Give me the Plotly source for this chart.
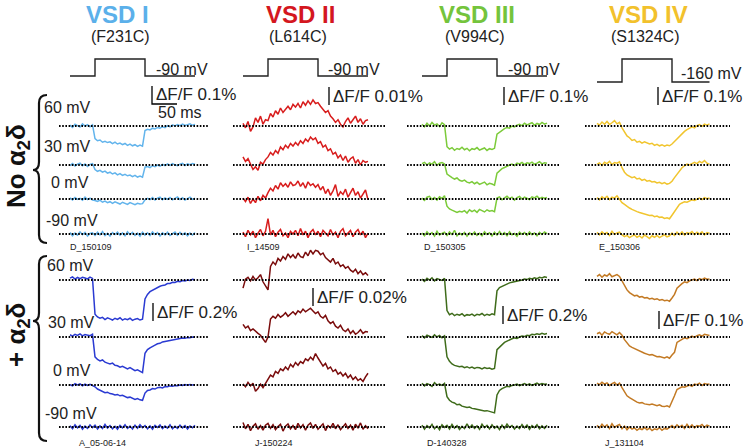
import plotly.graph_objects as go

# ------------------------------------------------------------------ data
T_STEP = 5  # ms between samples
COLUMNS = ["VSD I", "VSD II", "VSD III", "VSD IV"]
MUTANTS = ["(F231C)", "(L614C)", "(V994C)", "(S1324C)"]
HOLDING = ["-90 mV", "-90 mV", "-90 mV", "-160 mV"]
TEST_V = ["60 mV", "30 mV", "0 mV", "-90 mV"]
ROW_LABELS = ["No α<sub>2</sub>δ", "+ α<sub>2</sub>δ"]
IDS_TOP = ["D_150109", "I_14509", "D_150305", "E_150306"]
IDS_BOT = ["A_05-06-14", "J-150224", "D-140328", "J_131104"]
UNIT = [1e-3, 1e-4, 1e-3, 1e-3]          # % dF/F per integer value
SCALE_TOP = [0.1, 0.01, 0.1, 0.1]        # scale bar, % dF/F
SCALE_BOT = [0.2, 0.02, 0.2, 0.1]
PULSE = (50, 150)                         # ms
DURATION = [250, 250, 250, 225]           # ms
HOLD_LEVEL = [0, 0, 0, -0.35]             # relative to test level 1

# VSD I, no a2d
c1_top_60 = [5, -8, 10, 2, -6, 12, 0, 8, -4, 6,
             -70, -82, -78, -90, -85, -92, -88, -98, -90, -100, -95, -104, -97, -108, -101, -110, -104, -113, -106, -112,
             -25, -18, -22, -12, -16, -8, -12, -4, -9, 2, -5, 6, 0, 8, 2, 10, 3, 7, 12, 4, 9]
c1_top_30 = [-3, 8, -6, 5, 10, -4, 6, -8, 3, 7,
             -25, -35, -30, -40, -34, -45, -40, -50, -44, -55, -48, -58, -52, -60, -56, -65, -58, -67, -62, -68,
             -12, -8, -14, -4, -9, 0, -6, 4, -3, 6, -2, 8, 1, -4, 5, 9, -3, 6, 2, 8, 4]
c1_top_0 = [6, -5, 8, -2, 4, -7, 10, -3, 5, -6,
            -8, -14, -6, -18, -12, -20, -15, -24, -16, -22, -28, -18, -25, -30, -20, -27, -32, -24, -28, -26,
            -5, 4, -3, 8, -6, 5, 10, -4, 6, -2, 9, -5, 3, 12, -3, 7, -6, 4, 10, -2, 5]
c1_top_m90 = [8, -10, 5, -6, 12, -4, 9, -12, 3, 7, -8, 10, -5, 13, -9, 4, -11, 8, -3, 11,
              -7, 6, -10, 12, -4, 9, -8, 5, -12, 10, -6, 7, -9, 12, -3, 8, -11, 6, -5, 10,
              -8, 4, 11, -7, 9, -4, 7, -10, 5, -6, 8]
# VSD I, + a2d
c1_bot_60 = [20, 35, 10, 28, 15, 30, 22, 12, 32, 18,
             -380, -410, -425, -415, -440, -420, -432, -445, -425, -438, -420, -446, -430, -440, -425, -448, -435, -428, -445, -436,
             -210, -160, -130, -115, -95, -85, -70, -60, -55, -40, -38, -25, -28, -15, -18, -5, -10, 0, -6, 8, 2]
c1_bot_30 = [25, 10, 30, 18, 35, 12, 28, 20, 15, 30,
             -220, -250, -265, -255, -280, -290, -300, -290, -315, -320, -335, -325, -345, -355, -340, -360, -375, -365, -385, -395,
             -180, -140, -120, -100, -90, -75, -70, -55, -50, -38, -40, -28, -30, -18, -20, -10, -15, -5, -8, 0, -4]
c1_bot_0 = [5, -10, 15, 0, 12, -8, 10, -5, 8, -2,
            -20, -45, -60, -75, -85, -80, -95, -100, -110, -105, -120, -115, -130, -140, -135, -150, -160, -150, -165, -170,
            -90, -60, -55, -40, -45, -30, -25, -32, -18, -20, -10, -15, -5, -8, 0, -4, 5, -2, 6, 0, 3]
c1_bot_m90 = [15, -20, 25, -10, 18, -25, 10, -15, 22, -8, 20, -22, 12, -18, 28, -12, 16, -20, 8, -25,
              18, -10, 24, -16, 10, -22, 20, -14, 26, -8, 15, -20, 12, -24, 18, -6, 22, -18, 10, -12,
              25, -20, 8, -15, 20, -10, 16, -22, 12, -8, 18]
# VSD II, no a2d
c2_top_60 = [15, -10, 25, -30, -5, 45, 20, 55, 10, 35, 30, 70, 50, 85, 65, 100, 75, 95, 110, 90,
             120, 105, 125, 100, 135, 115, 140, 120, 145, 125, 130, 110, 90, 75, 85, 55, 40, 20, 35, 10,
             -5, 25, 45, 15, 35, 55, 20, 40, 10, 30, 35]
c2_top_30 = [45, 20, 35, 0, -25, -10, -30, 15, 5, 30, 45, 70, 55, 80, 65, 100, 85, 110, 95, 120,
             105, 125, 110, 135, 120, 145, 130, 155, 140, 150, 120, 130, 100, 110, 80, 90, 60, 70, 40, 55,
             25, 50, 15, 35, 45, 10, 30, 0, 25, 15, 20]
c2_top_0 = [5, -15, 10, -25, 0, -20, 15, -10, 20, 5, 35, 60, 45, 75, 55, 90, 70, 85, 65, 95,
            75, 80, 100, 70, 90, 60, 95, 75, 85, 65, 80, 50, 70, 30, 55, 20, 45, 80, 15, 40,
            25, 55, 10, 35, 60, 20, 40, 5, 30, 50, -5]
c2_top_m90 = [10, -15, 20, -5, 15, -20, 5, 25, -10, 15, 85, -5, 20, -15, 10, 25, -10, 5, -20, 15,
              0, 20, -10, 30, -5, 15, -20, 10, 25, -5, 15, -15, 20, 5, -10, 25, -5, 10, -20, 15,
              30, -10, 5, 20, -15, 10, 25, -5, 15, -20, 5]
# VSD II, + a2d
c2_bot_60 = [-90, 10, 30, -10, 40, 0, 25, 60, -20, -60, -110, 150, 200, 170, 240, 210, 260, 230, 290, 250,
             280, 240, 300, 260, 250, 310, 270, 330, 290, 330, 320, 280, 300, 250, 230, 200, 240, 180, 200, 150,
             170, 130, 150, 110, 90, 120, 70, 100, 60, 80, 50]
c2_bot_30 = [140, 100, 120, 70, 90, 60, 40, 20, -20, -60, 0, 200, 230, 210, 250, 220, 240, 270, 230, 260,
             280, 250, 290, 270, 310, 280, 300, 320, 290, 260, 280, 230, 210, 240, 180, 150, 170, 120, 100, 130,
             80, 60, 90, 40, 70, 30, 50, 80, 40, 60, 55]
c2_bot_0 = [10, -20, 30, -10, 20, -70, -40, 10, -30, 20, 60, 110, 90, 150, 130, 180, 160, 200, 170, 230,
            200, 250, 220, 260, 240, 290, 270, 310, 280, 350, 300, 260, 210, 240, 180, 200, 150, 170, 120, 140,
            100, 130, 80, 110, 60, 90, 50, 70, 40, 90, 130]
c2_bot_m90 = [50, -20, 30, -40, 10, 35, -25, 15, -35, 20, 40, -15, 25, -30, 5, 30, -45, 10, 35, -20,
              15, -30, 40, -10, 25, -35, 20, 45, -15, 30, -25, 10, 35, -40, 15, -10, 40, -20, 25, -30,
              5, 35, -15, 20, -35, 30, -10, 45, -25, 15, -20]
# VSD III, no a2d
c3_top_60 = [10, -5, 15, 0, 20, 5, 12, -3, 18, 8,
             -115, -128, -120, -135, -125, -130, -118, -132, -124, -138, -126, -130, -120, -134, -128, -122, -136, -126, -130, -124,
             -45, -35, -22, -15, -8, -12, 0, -5, 5, 10, 2, 15, 6, 12, 18, 4, 14, 8, 20, 10, 16]
c3_top_30 = [8, 15, 0, 12, 5, 18, -2, 10, 14, 6,
             -50, -62, -70, -78, -72, -85, -90, -84, -95, -100, -92, -104, -96, -108, -100, -95, -110, -102, -106, -112,
             -45, -30, -20, -14, -6, 0, 5, -3, 10, 6, 14, 2, 12, 8, 16, 4, 10, 18, 6, 12, 10]
c3_top_0 = [5, -8, 10, 15, -2, 8, -6, 12, 3, 18,
            -40, -55, -62, -70, -75, -68, -72, -65, -78, -60, -70, -62, -74, -58, -66, -72, -60, -68, -64, -70,
            5, 12, -4, 8, 15, 2, 10, -6, 8, 14, 0, 10, 5, -3, 12, 6, 16, 2, 9, 4, 8]
c3_top_m90 = [6, -10, 12, -4, 8, -12, 15, -6, 3, 10, -8, 12, -3, 20, -10, 5, -6, 9, -12, 7,
              -5, 11, -8, 4, -10, 13, -3, 7, -11, 10, -6, 14, -4, 8, -9, 12, -5, 3, -12, 10,
              -2, 8, -7, 12, -4, 6, -10, 9, -3, 11, 2]
# VSD III, + a2d
c3_bot_60 = [10, -15, 20, 0, 25, -10, 15, 5, -5, 20,
             -340, -385, -370, -395, -380, -390, -375, -400, -385, -392, -378, -398, -382, -388, -372, -396, -380, -390, -376, -385,
             -120, -85, -70, -55, -40, -32, -25, -20, -15, -5, 0, 10, 5, 20, 12, 25, 15, 30, 22, 35, 28]
c3_bot_30 = [15, -10, 20, 5, -5, 25, 0, 18, -8, 12,
             -220, -270, -300, -315, -320, -330, -325, -340, -330, -345, -335, -350, -338, -342, -355, -340, -350, -345, -358, -350,
             -140, -110, -80, -60, -45, -30, -20, -10, -15, 0, 10, 5, 20, 15, 30, 25, 35, 28, 40, 32, 38]
c3_bot_0 = [20, -10, 15, 5, -15, 25, 0, 10, -5, 18,
            -130, -170, -190, -200, -220, -215, -235, -240, -250, -245, -260, -265, -270, -275, -280, -290, -285, -295, -300, -310,
            -110, -60, -40, -25, -15, -20, -5, 0, 10, -8, 5, 15, 0, 12, -5, 10, 20, 5, 15, 8, 12]
c3_bot_m90 = [20, -25, 15, -10, 30, -20, 10, -30, 25, -5, 18, -22, 28, -12, 15, -28, 8, -18, 35, -10,
              22, -15, 12, -25, 30, -8, 18, -20, 25, -12, 10, -28, 20, -15, 32, -5, 15, -22, 10, -18,
              28, -10, 22, -25, 15, -8, 25, -20, 12, -15, 20]
# VSD IV, no a2d
c4_top_60 = [15, 5, 22, 10, 25, 8, 18, 30, 12, 20,
             -10, -35, -55, -65, -80, -75, -90, -85, -95, -88, -92, -100, -96, -108, -102, -110, -104, -112, -106, -110,
             -100, -85, -70, -55, -40, -30, -20, -12, -5, -10, 2, 8, -2, 10, 5, 12]
c4_top_30 = [5, 12, -3, 15, 8, 20, 2, 14, 10, 18,
             -15, -40, -55, -62, -70, -66, -78, -74, -85, -80, -90, -86, -94, -92, -100, -96, -104, -98, -106, -102,
             -90, -70, -50, -30, -15, -5, 5, 0, 10, 15, 8, 20, 12, 25, 10, 5]
c4_top_0 = [8, -5, 12, 2, 15, -3, 10, 5, 18, 0,
            -20, -30, -42, -50, -58, -62, -70, -75, -80, -85, -88, -92, -90, -98, -95, -102, -100, -108, -104, -110,
            -90, -70, -45, -30, -22, -15, -18, -10, -5, -8, 0, 5, -3, 8, 2, 6]
c4_top_m90 = [10, -5, 12, 0, 8, -8, 15, -2, 6, 10,
              -5, -15, -8, -20, -12, -5, -18, -10, -22, -6, -15, -25, -10, -18, -8, -20, -12, -5, -16, -10,
              5, -8, 10, -4, 12, -6, 8, 2, 14, -3, 10, 0, 12, -5, 8, 4]
# VSD IV, + a2d
c4_bot_60 = [20, 30, 15, 28, 22, 35, 18, 25, 30, 20,
             -5, -35, -55, -70, -80, -88, -85, -95, -92, -100, -98, -105, -102, -108, -104, -112, -108, -115, -112, -118,
             -100, -80, -45, -30, -20, -10, -15, -5, 0, 5, -3, 8, 2, 10, 4, 6]
c4_bot_30 = [18, 25, 10, 28, 20, 15, 30, 22, 12, 25,
             10, -15, -35, -50, -58, -65, -72, -80, -85, -90, -95, -100, -98, -105, -110, -108, -112, -116, -110, -118,
             -100, -85, -30, -20, -15, -5, -10, 0, 5, -2, 8, 12, 5, 15, 10, 8]
c4_bot_0 = [10, 2, 15, 5, 12, -3, 8, 14, 0, 10,
            -15, -40, -60, -70, -80, -88, -95, -100, -98, -105, -108, -110, -106, -112, -115, -110, -118, -120, -116, -122,
            -95, -60, -25, -15, -10, -12, -5, 0, -8, 5, 2, 10, -3, 8, 4, 6]
c4_bot_m90 = [10, -5, 15, 0, 12, -8, 18, -2, 8, 14,
              -10, 5, -15, 0, -12, -5, -18, -8, -14, -3, -16, -6, -20, -10, -15, -4, -18, -8, -12, -2,
              8, -6, 12, 0, 10, -8, 15, -3, 12, -5, 8, 4, 14, -2, 10, 5]

TRACES = {
    (0, 0): [c1_top_60, c1_top_30, c1_top_0, c1_top_m90],
    (0, 1): [c1_bot_60, c1_bot_30, c1_bot_0, c1_bot_m90],
    (1, 0): [c2_top_60, c2_top_30, c2_top_0, c2_top_m90],
    (1, 1): [c2_bot_60, c2_bot_30, c2_bot_0, c2_bot_m90],
    (2, 0): [c3_top_60, c3_top_30, c3_top_0, c3_top_m90],
    (2, 1): [c3_bot_60, c3_bot_30, c3_bot_0, c3_bot_m90],
    (3, 0): [c4_top_60, c4_top_30, c4_top_0, c4_top_m90],
    (3, 1): [c4_bot_60, c4_bot_30, c4_bot_0, c4_bot_m90],
}

# ------------------------------------------------------------------ layout / style
W, H = 744, 448
FONT = "Liberation Sans, Arial, Helvetica, sans-serif"
TITLE_COLORS = ["#5bb0ea", "#d4171f", "#74c43c", "#f2c12c"]
TRACE_COLORS = {0: ["#62b4ec", "#d81c1c", "#7ccb3a", "#f1c52e"],
                1: ["#2a3ad2", "#7a0b0b", "#3f6c1b", "#c37a24"]}
X0 = [70, 243, 422, 597]           # pixel of t = 0 in each column
PX_PER_MS = 0.5
XR = (-30, 290)
BASES = {0: [126, 165, 199, 234], 1: [280, 337, 385, 427]}
DOMS = {0: (84, 247), 1: (249, 447)}
BAR_PX = 18
DOT_PX = [(59, 209), (233, 385), (407, 560), (585, 730)]
SB = {  # scale bar: (x px, bottom px)
    (0, 0): (152, 104), (1, 0): (329, 105), (2, 0): (504, 105), (3, 0): (658, 105),
    (0, 1): (153, 321), (1, 1): (313, 306), (2, 1): (503, 324), (3, 1): (659, 329),
}
PROTO_DOM = (55, 86)
PROTO_HIGH_PX, PROTO_HOLD_PX = 59, 76

for key, lst in TRACES.items():
    n = DURATION[key[0]] // T_STEP + 1
    for v in lst:
        assert len(v) == n, (key, len(v), n)


def pf_x(px):
    return px / W


def pf_y(py):
    return 1 - py / H


fig = go.Figure()
layout = {}


def t_of_px(c, px):
    return (px - X0[c]) / PX_PER_MS


for r in (0, 1):
    for c in range(4):
        n = r * 4 + c + 1
        scale = (SCALE_TOP if r == 0 else SCALE_BOT)[c]
        ppp = BAR_PX / scale  # pixels per % dF/F
        b0 = BASES[r][0]

        def y_of_px(py, b0=b0, ppp=ppp):
            return (b0 - py) / ppp

        d0, d1 = DOMS[r]
        layout[f"xaxis{n}"] = dict(domain=[pf_x(X0[c] + XR[0] * PX_PER_MS), pf_x(X0[c] + XR[1] * PX_PER_MS)],
                                   range=list(XR), visible=False, anchor=f"y{n}", fixedrange=True)
        layout[f"yaxis{n}"] = dict(domain=[pf_y(d1), pf_y(d0)], range=[y_of_px(d1), y_of_px(d0)],
                                   visible=False, anchor=f"x{n}", fixedrange=True)
        times = [i * T_STEP for i in range(DURATION[c] // T_STEP + 1)]
        xa, ya = f"x{n}", f"y{n}"
        for k, vals in enumerate(TRACES[(c, r)]):
            off = y_of_px(BASES[r][k])
            fig.add_trace(go.Scatter(x=times, y=[v * UNIT[c] + off for v in vals], mode="lines",
                                     line=dict(color=TRACE_COLORS[r][c], width=1.5),
                                     xaxis=xa, yaxis=ya, hoverinfo="skip", showlegend=False))
        for k in range(4):
            off = y_of_px(BASES[r][k])
            fig.add_trace(go.Scatter(x=[t_of_px(c, DOT_PX[c][0]), t_of_px(c, DOT_PX[c][1])], y=[off, off],
                                     mode="lines", line=dict(color="black", width=2, dash="1.6px,1.6px"),
                                     xaxis=xa, yaxis=ya, hoverinfo="skip", showlegend=False))
        # scale bar
        sx, sy = SB[(c, r)]
        tb, yb = t_of_px(c, sx), y_of_px(sy)
        bx, by = [tb, tb], [yb + scale, yb]
        if (c, r) == (0, 0):
            bx += [tb + 50]
            by += [yb]
        fig.add_trace(go.Scatter(x=bx, y=by, mode="lines", line=dict(color="black", width=1.3),
                                 xaxis=xa, yaxis=ya, hoverinfo="skip", showlegend=False))

# voltage protocol (shared y axis 9)
layout["yaxis9"] = dict(domain=[pf_y(PROTO_DOM[1]), pf_y(PROTO_DOM[0])],
                        range=[-(PROTO_DOM[1] - PROTO_HOLD_PX) / (PROTO_HOLD_PX - PROTO_HIGH_PX),
                               (PROTO_HOLD_PX - PROTO_DOM[0]) / (PROTO_HOLD_PX - PROTO_HIGH_PX)],
                        visible=False, anchor="x1", fixedrange=True)
for c in range(4):
    h = HOLD_LEVEL[c]
    fig.add_trace(go.Scatter(x=[0, PULSE[0], PULSE[0], PULSE[1], PULSE[1], DURATION[c]],
                             y=[h, h, 1, 1, h, h], mode="lines", line=dict(color="#222", width=1.4),
                             xaxis=f"x{c + 1}", yaxis="y9", hoverinfo="skip", showlegend=False))

ann = []


def text(s, x, y, size, color="#222", bold=False, xanchor="center", angle=0):
    ann.append(dict(text=f"<b>{s}</b>" if bold else s, x=pf_x(x), y=pf_y(y), xref="paper", yref="paper",
                    xanchor=xanchor, yanchor="middle", showarrow=False, textangle=angle,
                    font=dict(family=FONT, size=size, color=color)))


TITLE_X = [117, 300, 477, 648]
SUB_X = [120, 298, 475, 645]
for c in range(4):
    text(COLUMNS[c], TITLE_X[c], 14, 24, TITLE_COLORS[c], bold=True)
    text(MUTANTS[c], SUB_X[c], 37, 16)
HOLD_POS = [(154, 69), (326, 69), (506, 69), (679, 73)]
for c in range(4):
    text(HOLDING[c], HOLD_POS[c][0], HOLD_POS[c][1], 16, xanchor="left")

# scale bar labels
for (c, r), (sx, sy) in SB.items():
    scale = (SCALE_TOP if r == 0 else SCALE_BOT)[c]
    text(f"ΔF/F {scale:g}%", sx + 2, sy - BAR_PX / 2, 17, xanchor="left")
text("50 ms", 180, 113, 16)

# test-voltage labels
VL = {0: [(67, 107), (67, 146), (70, 183), (72, 220)], 1: [(70, 265), (71, 322), (72, 370), (71, 413)]}
for r in (0, 1):
    for k, (x, y) in enumerate(VL[r]):
        text(TEST_V[k], x, y, 16)

# recording ids
ID_TOP_X = [68, 245, 422, 597]
ID_BOT_X = [77, 253, 425, 603]
for c in range(4):
    text(IDS_TOP[c], ID_TOP_X[c], 247, 9, xanchor="left")
    text(IDS_BOT[c], ID_BOT_X[c], 443, 9, xanchor="left")

# row labels
text(ROW_LABELS[0], 17, 166, 26, "#111", bold=True, angle=-90)
text(ROW_LABELS[1], 17, 335, 26, "#111", bold=True, angle=-90)


def brace(top, mid, bot, xv=39, xt=47, xp=33):
    pts = [("M", xt, top), ("Q", xv, top, xv, top + 8), ("L", xv, mid - 8), ("Q", xv, mid, xp, mid),
           ("Q", xv, mid, xv, mid + 8), ("L", xv, bot - 8), ("Q", xv, bot, xt, bot)]
    out = []
    for p in pts:
        cmd, vals = p[0], p[1:]
        coords = []
        for i in range(0, len(vals), 2):
            coords.append(f"{pf_x(vals[i]):.5f},{pf_y(vals[i + 1]):.5f}")
        out.append(cmd + " " + " ".join(coords))
    return " ".join(out)


shapes = [dict(type="path", xref="paper", yref="paper", path=brace(95, 170, 243),
               line=dict(color="#111", width=2.2)),
          dict(type="path", xref="paper", yref="paper", path=brace(256, 321, 441),
               line=dict(color="#111", width=2.2))]

fig.update_layout(width=W, height=H, margin=dict(l=0, r=0, t=0, b=0), paper_bgcolor="white",
                  plot_bgcolor="rgba(0,0,0,0)", annotations=ann, shapes=shapes, showlegend=False, **layout)
fig.write_html("out.html", config={"displayModeBar": False, "staticPlot": True},
               post_script="document.body.style.margin='0';document.body.style.padding='0';")
